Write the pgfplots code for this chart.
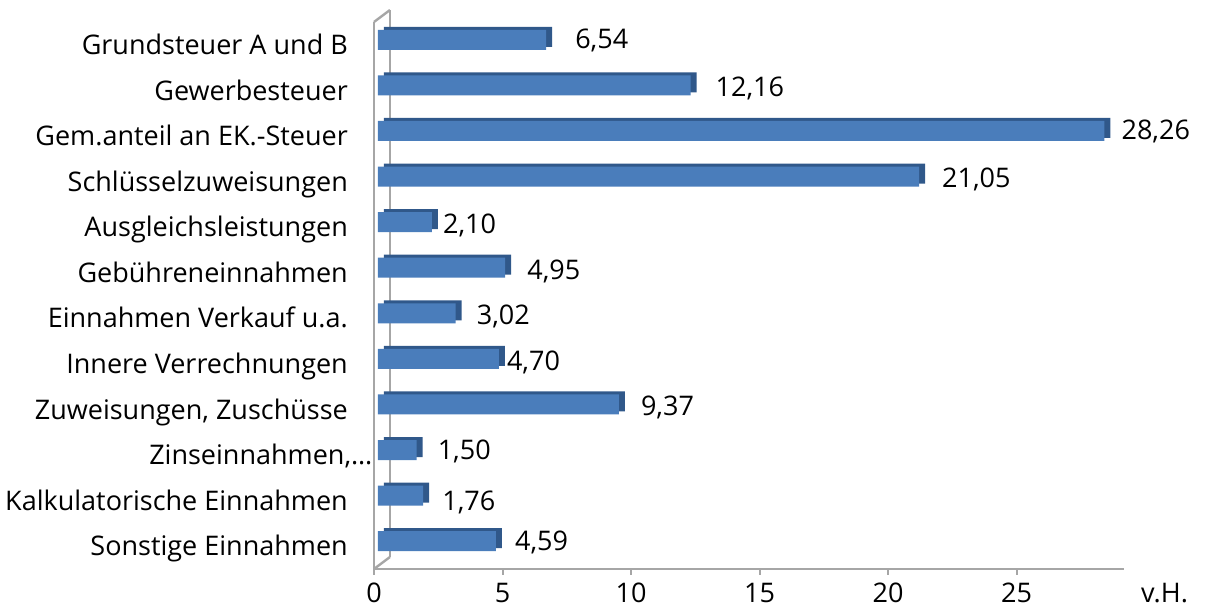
\documentclass[border=0pt]{standalone}
\usepackage{fontspec}
\setmainfont{Open Sans}
\usepackage{pgfplots}
\usepackage{pgfplotstable}
\pgfplotsset{compat=1.18}
\pgfplotsset{/pgf/number format/assume math mode=true}

\definecolor{axgray}{HTML}{A6A6A6}
\definecolor{barfront}{HTML}{4A7DBB}
\definecolor{barside}{HTML}{30588A}

% Anteile der Einnahmen in v.H.; pos = Zeile (0 = unten),
% dx/dy = Lage der Wertangabe gegenueber dem Balkenende
\pgfplotstableread{
pos val dx dy
11 6.54 29 5.5
10 12.16 25 3.4
9 28.26 17 6
8 21.05 23 4
7 2.10 11 3
6 4.95 22 2.5
5 3.02 21 3.4
4 4.70 8 3.5
3 9.37 22 3.6
2 1.50 21 4.7
1 1.76 19 0
0 4.59 19 5.4
}\einnahmen

% gekuerzte Beschriftung, die bis an die Achse reicht
\newcommand{\zinsen}{\makebox[0pt][r]{Zinseinnahmen,…\kern-25pt}}

\begin{document}
\begin{tikzpicture}[font=\fontsize{27}{32}\selectfont]
\begin{axis}[
  name=ax,
  scale only axis,
  width=750pt, height=547pt,
  xmin=0, xmax=29.18,
  ymin=-0.5, ymax=11.5,
  clip=false,
  axis x line*=bottom, axis y line*=left,
  axis line style={axgray, line width=2.4pt, -},
  tick align=outside,
  xtick={0,5,...,25},
  xtick style={axgray, line width=2pt},
  x tick label style={anchor=north, inner sep=0pt, yshift=-8pt, text height=19.3pt, text depth=0pt},
  ytick={0,...,11},
  ytick style={draw=none},
  yticklabels={Sonstige Einnahmen, Kalkulatorische Einnahmen, \zinsen, {Zuweisungen, Zuschüsse}, Innere Verrechnungen, Einnahmen Verkauf u.a., Gebühreneinnahmen, Ausgleichsleistungen, Schlüsselzuweisungen, Gem.anteil an EK.-Steuer, Gewerbesteuer, Grundsteuer A und B},
  y tick label style={anchor=east, inner sep=0pt, xshift=-20pt, text height=19.3pt, text depth=0pt},
  extra y ticks={-0.5,0.5,...,11.5},
  extra y tick labels={},
  extra y tick style={major tick length=8pt, tick style={axgray, line width=2pt, draw=axgray}},
  major tick length=6pt,
  xlabel={v.H.},
  xlabel style={at={(axis description cs:1,0)}, anchor=north west, inner sep=0pt, xshift=17pt, yshift=-14pt, text height=19.3pt, text depth=0pt},
]
% Rueckwand und Bodenkante der 3D-Darstellung
\draw[axgray, line width=2.4pt] ([xshift=16pt,yshift=12pt]rel axis cs:0,0) -- ([xshift=16pt,yshift=12pt]rel axis cs:0,1);
\draw[axgray, line width=2.4pt] (rel axis cs:0,1) -- ([xshift=16pt,yshift=12pt]rel axis cs:0,1);
\draw[axgray, line width=2.4pt] (rel axis cs:0,0) -- ([xshift=16pt,yshift=12pt]rel axis cs:0,0);

% Ober- und Seitenflaeche der Balken
\addplot[xbar, bar width=20pt, bar shift=5pt, draw=none, fill=barside, xshift=10pt, yshift=3pt]
  table[x=val, y=pos] {\einnahmen};
% Vorderflaeche der Balken mit Wertangabe
\addplot[xbar, bar width=20pt, bar shift=5pt, draw=none, fill=barfront, xshift=4pt,
  point meta=x,
  visualization depends on={\thisrow{dx} \as \dx},
  visualization depends on={\thisrow{dy} \as \dy},
  nodes near coords={\pgfmathprintnumber[fixed,fixed zerofill,precision=2,use comma]{\pgfplotspointmeta}},
  nodes near coords align={horizontal},
  every node near coord/.append style={anchor=west, inner sep=0pt, xshift=\dx pt, yshift=\dy pt, black, text height=19.3pt, text depth=0pt},
  ]
  table[x=val, y=pos] {\einnahmen};
\end{axis}
\pgfresetboundingbox
\path ([xshift=-374pt,yshift=-43pt]ax.south west) rectangle ++(1206pt,612pt);
\end{tikzpicture}
\end{document}
